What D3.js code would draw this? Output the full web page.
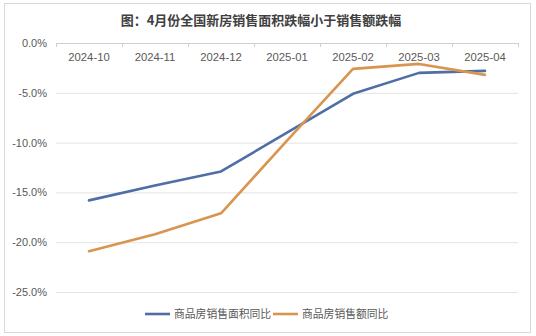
<!DOCTYPE html>
<html><head><meta charset="utf-8">
<script src="https://cdn.jsdelivr.net/npm/d3@7"></script>
<style>
html,body{margin:0;padding:0;background:#fff;}
svg{display:block;font-family:"Liberation Sans","Noto Sans CJK SC",sans-serif;}
</style></head>
<body>
<svg id="chart" width="536" height="336"></svg>
<script>
const title = "图：4月份全国新房销售面积跌幅小于销售额跌幅";
const categories = ["2024-10","2024-11","2024-12","2025-01","2025-02","2025-03","2025-04"];
const areaYoY = [-15.8, -14.3, -12.9, -9.0, -5.1, -3.0, -2.8];
const salesYoY = [-20.9, -19.2, -17.1, -9.8, -2.6, -2.1, -3.2];
const seriesNames = ["商品房销售面积同比", "商品房销售额同比"];
const yTicks = [0, -5, -10, -15, -20, -25];

(function () {
const colors = ["#4f6ea6", "#d8954f"];
const svg = d3.select("#chart");

// outer frame
svg.append("rect").attr("x",4.5).attr("y",3.5).attr("width",526).attr("height",329)
  .attr("fill","#fff").attr("stroke","#d9d9d9").attr("stroke-width",1);

const pl = 56, pr = 518, pt = 43, pb = 292;
const x = d3.scaleBand().domain(categories).range([pl, pr]);
const y = d3.scaleLinear().domain([-25, 0]).range([pb, pt]);

// title
svg.append("text").attr("x", 261).attr("y", 25).attr("text-anchor","middle")
  .attr("font-size", 13).attr("font-weight","bold").attr("fill","#404040")
  .attr("font-family","'Noto Sans CJK SC',sans-serif")
  .text(title);

// gridlines
svg.append("g").selectAll("line").data(yTicks.filter(d => d !== 0)).join("line")
  .attr("x1", pl).attr("x2", pr)
  .attr("y1", d => y(d) + 0.5).attr("y2", d => y(d) + 0.5)
  .attr("stroke", "#e3e3e3").attr("stroke-width", 1);

// y axis labels
const yAxis = d3.axisLeft(y).tickValues(yTicks).tickSize(0).tickPadding(9)
  .tickFormat(d => d.toFixed(1) + "%");
const gy = svg.append("g").attr("transform", `translate(${pl},0)`).call(yAxis);
gy.select(".domain").remove();
gy.selectAll("text").attr("font-size", 11).attr("fill", "#595959")
  .attr("font-family","'Liberation Sans',sans-serif");

// x axis at 0%
const xAxis = d3.axisBottom(x).tickSize(0).tickPadding(10);
const gx = svg.append("g").attr("transform", `translate(0,${y(0)})`).call(xAxis);
gx.select(".domain").attr("stroke", "#d0d0d0").attr("d", `M${pl},0.5H${pr}`);
gx.selectAll("text").attr("font-size", 11.3).attr("fill", "#595959")
  .attr("font-family","'Liberation Sans',sans-serif");
// category boundary ticks
const bounds = categories.map(c => x(c)).concat([pr]);
svg.append("g").selectAll("line").data(bounds).join("line")
  .attr("x1", d => Math.round(d) + 0.5).attr("x2", d => Math.round(d) + 0.5)
  .attr("y1", y(0)).attr("y2", y(0) + 4)
  .attr("stroke", "#d0d0d0");

// lines
const line = d3.line().x((d, i) => x(categories[i]) + x.bandwidth() / 2).y(d => y(d));
[areaYoY, salesYoY].forEach((s, k) => {
  svg.append("path").datum(s).attr("d", line).attr("fill", "none")
    .attr("stroke", colors[k]).attr("stroke-width", 2.6)
    .attr("stroke-linejoin", "round").attr("stroke-linecap", "round");
});

// legend
const legendItems = [{x: 145, name: seriesNames[0], c: colors[0]}, {x: 273, name: seriesNames[1], c: colors[1]}];
const lg = svg.append("g");
legendItems.forEach(it => {
  lg.append("line").attr("x1", it.x).attr("x2", it.x + 25).attr("y1", 314).attr("y2", 314)
    .attr("stroke", it.c).attr("stroke-width", 2.6);
  lg.append("text").attr("x", it.x + 29).attr("y", 318).attr("font-size", 10.8)
    .attr("fill", "#595959").attr("font-family","'Noto Sans CJK SC',sans-serif").text(it.name);
});
})();
</script>
</body></html>
